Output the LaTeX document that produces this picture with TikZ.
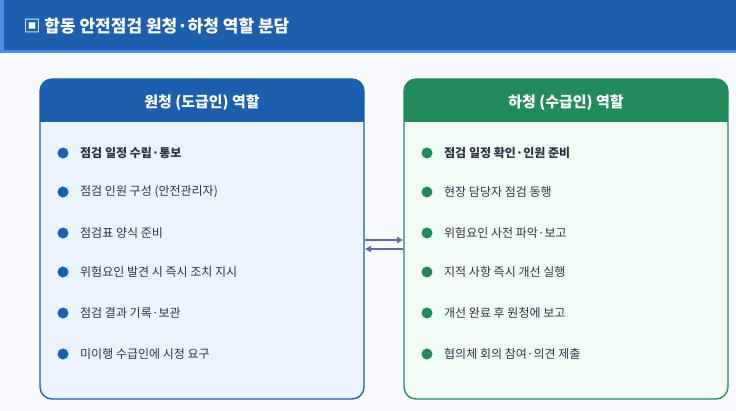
\documentclass[tikz,border=0pt]{standalone}
\usepackage{fontspec}
\setmainfont{Noto Sans CJK KR}
\newfontfamily\kb{Noto Sans CJK KR Bold}
\usetikzlibrary{arrows.meta}
\definecolor{bgc}{HTML}{F8FAFF}
\definecolor{blu}{HTML}{1B5FAE}
\definecolor{lblu}{HTML}{4A90E2}
\definecolor{lbox}{HTML}{EAF3FE}
\definecolor{grn}{HTML}{238A5C}
\definecolor{gbox}{HTML}{F3FBF6}
\definecolor{txt}{HTML}{2B3445}
\definecolor{arr}{HTML}{5A6E9A}
\begin{document}
\begin{tikzpicture}[x=1pt,y=-1pt,
  item/.style={anchor=west,font=\fontsize{12}{14}\selectfont,text=txt,inner sep=0},
  bitem/.style={item,font=\fontsize{12}{14}\selectfont\bfseries},
  hd/.style={text=white,font=\fontsize{15}{18}\selectfont\bfseries}]
\useasboundingbox (0,0) rectangle (736,411);
\fill[bgc] (0,0) rectangle (736,411);
\fill[blu] (0,0) rectangle (736,50);
\fill[lblu] (0,50) rectangle (736,53);
\fill[lblu] (0,0) rectangle (4,50);
\node[hd,anchor=west,font=\fontsize{17}{20}\selectfont\bfseries] (title) at (20,26) {▣\ 합동 안전점검 원청·하청 역할 분담};
% left box
\draw[blu,fill=lbox,line width=1.3pt,rounded corners=12pt] (40,79) rectangle (364,399);
\fill[blu,rounded corners=12pt] (40,79) rectangle (364,115);
\fill[blu] (40,100) rectangle (364,122);
\node[hd] (lh) at (202,103) {원청 (도급인) 역할};
% right box
\draw[grn,fill=gbox,line width=1.3pt,rounded corners=12pt] (404,79) rectangle (728,399);
\fill[grn,rounded corners=12pt] (404,79) rectangle (728,115);
\fill[grn] (404,100) rectangle (728,122);
\node[hd] (rh) at (566,103) {하청 (수급인) 역할};
\foreach \y/\t [count=\i] in {153/점검 일정 수립·통보,192/점검 인원 구성 (안전관리자),233/점검표 양식 준비,272/위험요인 발견 시 즉시 조치 지시,313/점검 결과 기록·보관,354/미이행 수급인에 시정 요구}{
  \fill[blu] (63,\y) circle (5.5);
  \ifnum\i=1 \node[bitem] (l\i) at (80,\y) {\t};\else \node[item] (l\i) at (80,\y) {\t};\fi
}
\foreach \y/\t [count=\i] in {153/점검 일정 확인·인원 준비,192/현장 담당자 점검 동행,233/위험요인 사전 파악·보고,272/지적 사항 즉시 개선 실행,313/개선 완료 후 원청에 보고,354/협의체 회의 참여·의견 제출}{
  \fill[grn] (427,\y) circle (5.5);
  \ifnum\i=1 \node[bitem] (r\i) at (444,\y) {\t};\else \node[item] (r\i) at (444,\y) {\t};\fi
}
\coordinate (a1) at (365,240); \coordinate (b1) at (403,240);
\coordinate (a2) at (403,249); \coordinate (b2) at (365,249);
\draw[arr,line width=1.3pt,-{Triangle[length=6pt,width=6pt]}] (a1) -- (b1);
\draw[arr,line width=1.3pt,-{Triangle[length=6pt,width=6pt]}] (a2) -- (b2);
\end{tikzpicture}
\end{document}
